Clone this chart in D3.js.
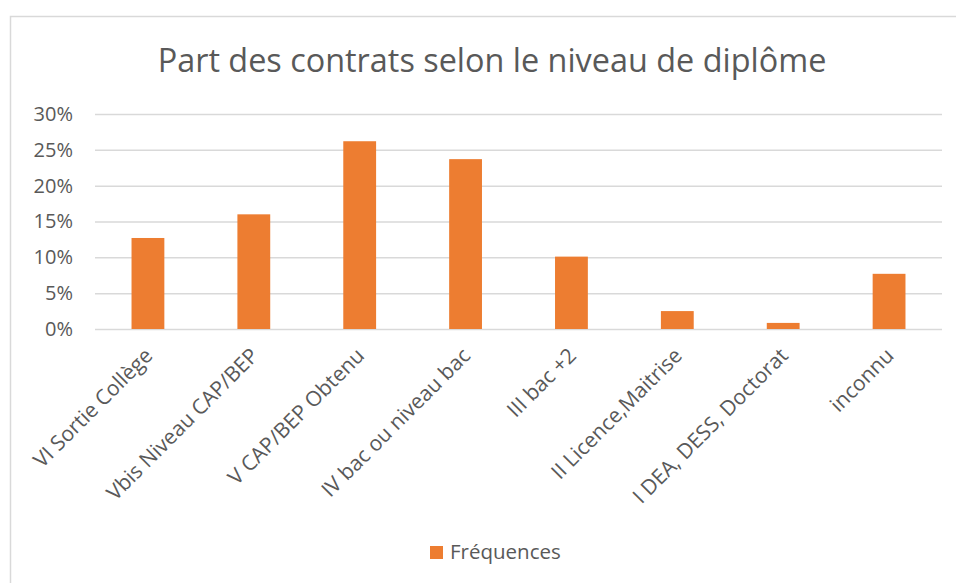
<!DOCTYPE html>
<html>
<head>
<meta charset="utf-8">
<script src="https://cdn.jsdelivr.net/npm/d3@7"></script>
<style>
  body { margin: 0; background: #fff; }
  svg text { font-family: "Open Sans", sans-serif; fill: #595959; }
</style>
</head>
<body>
<div id="chart"></div>
<script>
// data
const categories = ["VI Sortie Collège", "Vbis Niveau CAP/BEP", "V CAP/BEP Obtenu", "IV bac ou niveau bac",
                    "III bac +2", "II Licence,Maitrise", "I DEA, DESS, Doctorat", "inconnu"];
const frequences = [0.127, 0.160, 0.262, 0.237, 0.101, 0.025, 0.0085, 0.077];
const yTicks = [0, 0.05, 0.10, 0.15, 0.20, 0.25, 0.30];
const seriesName = "Fréquences";
const title = "Part des contrats selon le niveau de diplôme";

const width = 956, height = 583;
const svg = d3.select("#chart").append("svg")
    .attr("width", width)
    .attr("height", height);

// chart area border
svg.append("rect")
    .attr("x", 10.5).attr("y", 16.5)
    .attr("width", 980).attr("height", 620)
    .attr("fill", "#fff")
    .attr("stroke", "#d9d9d9")
    .attr("stroke-width", 1.5);

svg.append("text")
    .attr("x", 492).attr("y", 72)
    .attr("text-anchor", "middle")
    .style("font-size", "32.4px")
    .text(title);

const x = d3.scaleBand()
    .domain(categories)
    .range([95, 942])
    .paddingInner(0.69)
    .paddingOuter(0.345);

const y = d3.scaleLinear()
    .domain([0, 0.30])
    .range([329, 114]);

// gridlines + tick labels
const yAxis = svg.append("g")
    .attr("transform", "translate(95,0)")
    .call(d3.axisLeft(y).tickValues(yTicks).tickFormat(d3.format(".0%")).tickSize(-847).tickPadding(22));
yAxis.select(".domain").remove();
yAxis.selectAll(".tick line").attr("stroke", "#d9d9d9").attr("stroke-width", 1.5);
yAxis.selectAll(".tick text").style("font-size", "20px").attr("fill", "#595959");

// bars
svg.append("g").selectAll("rect")
    .data(frequences)
    .join("rect")
    .attr("x", (d, i) => x(categories[i]))
    .attr("y", d => y(d))
    .attr("width", x.bandwidth())
    .attr("height", d => y(0) - y(d))
    .attr("fill", "#ed7d31");

// rotated category labels
svg.append("g").selectAll("text")
    .data(categories)
    .join("text")
    .attr("text-anchor", "end")
    .attr("transform", d => `translate(${x(d) + x.bandwidth() / 2 + 6},${357}) rotate(-45)`)
    .style("font-size", "21px")
    .text(d => d);

// legend
const legend = svg.append("g");
legend.append("rect")
    .attr("x", 430).attr("y", 546)
    .attr("width", 13).attr("height", 13)
    .attr("fill", "#ed7d31");
legend.append("text")
    .attr("x", 450).attr("y", 559)
    .style("font-size", "20.5px")
    .text(seriesName);
</script>
</body>
</html>
